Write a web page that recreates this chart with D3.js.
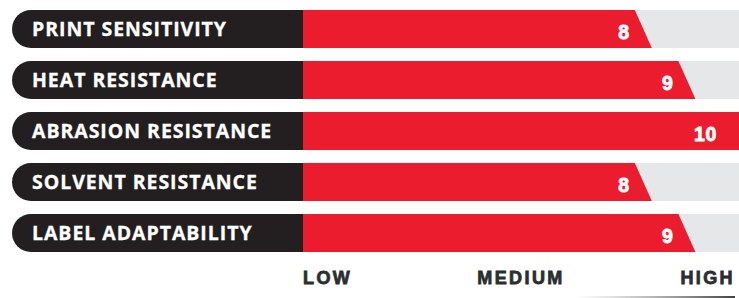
<!DOCTYPE html>
<html>
<head>
<meta charset="utf-8">
<script src="https://cdn.jsdelivr.net/npm/d3@7"></script>
<style>
  html, body { margin: 0; padding: 0; background: #fff; }
  svg { display: block; }
</style>
</head>
<body>
<svg id="chart" width="739" height="298"></svg>
<script>
const categories = ["PRINT SENSITIVITY", "HEAT RESISTANCE", "ABRASION RESISTANCE", "SOLVENT RESISTANCE", "LABEL ADAPTABILITY"];
const values = [8, 9, 10, 8, 9];
const tickLabels = ["LOW", "MEDIUM", "HIGH"];
const tickValues = [0, 5, 10];

const W = 739, H = 298;
const svg = d3.select("#chart");

const labelLeft = 12, barStart = 303, barEnd = 739;
const x = d3.scaleLinear().domain([0, 10]).range([barStart, barEnd]);
const y = d3.scaleBand().domain(categories).range([10, 252]).paddingInner(0.255).paddingOuter(0);
const bh = y.bandwidth();
const slant = 17;

const rows = svg.selectAll("g.row").data(categories.map((c, i) => ({ c, v: values[i] })))
  .enter().append("g").attr("class", "row")
  .attr("transform", d => `translate(0,${y(d.c)})`);

// grey track
rows.append("rect").attr("x", barStart).attr("y", 0)
  .attr("width", barEnd - barStart).attr("height", bh).attr("fill", "#e6e7e8");

// red value bar with slanted end
rows.append("path").attr("fill", "#ec1c2f")
  .attr("d", d => {
    const xe = x(d.v);
    const xt = d.v >= x.domain()[1] ? xe : xe - slant;
    return `M${barStart},0L${xt},0L${xe},${bh}L${barStart},${bh}Z`;
  });

// dark label pill (rounded on the left only)
rows.append("path").attr("fill", "#231f20")
  .attr("d", () => {
    const r = bh / 2;
    return `M${labelLeft + r},0L${barStart},0L${barStart},${bh}L${labelLeft + r},${bh}A${r},${r} 0 0 1 ${labelLeft + r},0Z`;
  });

rows.append("text")
  .attr("x", 32).attr("y", 26)
  .attr("fill", "#fff")
  .attr("stroke", "#fff").attr("stroke-width", 0.3)
  .attr("font-family", "'Open Sans', sans-serif")
  .attr("font-weight", 700)
  .attr("font-size", 19.5)
  .attr("letter-spacing", 0.95)
  .text(d => d.c);

rows.append("text")
  .attr("x", d => Math.min(x(d.v) - 22, barEnd - 6))
  .attr("y", 28.5)
  .attr("text-anchor", "end")
  .attr("fill", "#fff")
  .attr("stroke", "#fff").attr("stroke-width", 0.8)
  .attr("font-family", "'Liberation Sans', Arial, sans-serif")
  .attr("font-weight", 700)
  .attr("font-size", 19.5)
  .attr("letter-spacing", 0.6)
  .text(d => d.v);

// axis labels
const anchors = ["start", "middle", "end"];
svg.selectAll("text.tick").data(tickLabels).enter().append("text")
  .attr("class", "tick")
  .attr("x", (d, i) => i === 2 ? x(tickValues[i]) - 4 : x(tickValues[i]))
  .attr("y", 284)
  .attr("text-anchor", (d, i) => anchors[i])
  .attr("fill", "#2b2e30")
  .attr("stroke", "#2b2e30").attr("stroke-width", 0.8)
  .attr("font-family", "'Liberation Sans', Arial, sans-serif")
  .attr("font-weight", 700)
  .attr("font-size", 18)
  .attr("letter-spacing", 2.4)
  .text(d => d);

// faint shadow line at bottom right
const defs = svg.append("defs");
const grad = defs.append("linearGradient").attr("id", "shadow").attr("x1", "0%").attr("x2", "100%");
grad.append("stop").attr("offset", "0%").attr("stop-color", "#888").attr("stop-opacity", 0);
grad.append("stop").attr("offset", "100%").attr("stop-color", "#444").attr("stop-opacity", 1);
svg.append("rect").attr("x", 575).attr("y", 296).attr("width", 160).attr("height", 2)
  .attr("fill", "url(#shadow)");
</script>
</body>
</html>
